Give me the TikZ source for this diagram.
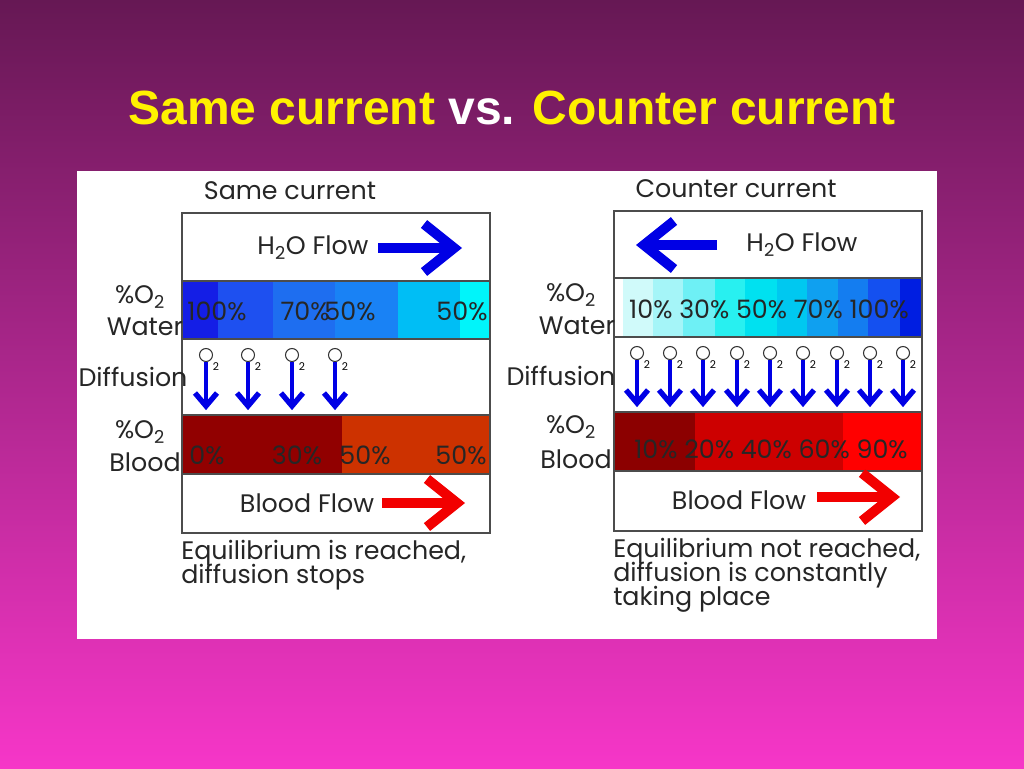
\documentclass[tikz,border=0pt]{standalone}
\usepackage{fontspec}
\setmainfont{Liberation Sans}
\newfontfamily\gfont{Poppins}
\begin{document}
\begin{tikzpicture}[x=0.75pt,y=-0.75pt,
  lab/.style={font=\gfont\fontsize{19}{20}\selectfont,inner sep=0pt,text=black!85},
  flowb/.style={line width=7.5pt,blue!90!black},
  flowr/.style={line width=7.5pt,red!95!black},
  dif/.style={blue!90!black}]
\useasboundingbox (0,0) rectangle (1024,768);
\shade[top color={rgb,255:red,102;green,24;blue,84},bottom color={rgb,255:red,246;green,54;blue,200}] (0,0) rectangle (1024,768);
\node[font=\bfseries\fontsize{36}{40}\selectfont,inner sep=0pt] (title) at (512,108) {\textcolor{yellow}{Same current} \textcolor{white}{vs.} \textcolor{yellow}{Counter current}};
\fill[white] (77,171) rectangle (937,639);
% ---------- left panel ----------
\def\seg#1#2#3#4#5{\fill[#5] (#1,#3) rectangle (#2,#4);}
\definecolor{wa}{RGB}{20,30,230}\definecolor{wb}{RGB}{30,80,240}\definecolor{wc}{RGB}{30,110,240}
\definecolor{wd}{RGB}{25,130,245}\definecolor{we}{RGB}{0,190,245}\definecolor{wf}{RGB}{0,245,250}
\seg{182}{218}{281}{339}{wa}\seg{218}{273}{281}{339}{wb}\seg{273}{335}{281}{339}{wc}
\seg{335}{398}{281}{339}{wd}\seg{398}{460}{281}{339}{we}\seg{460}{490}{281}{339}{wf}
\definecolor{ba}{RGB}{145,0,0}\definecolor{bb}{RGB}{205,50,0}
\seg{182}{342}{415}{474}{ba}\seg{342}{490}{415}{474}{bb}
\draw[black!70,line width=0.9pt] (182,213) rectangle (490,533);
\foreach \y in {281,339,415,474}{\draw[black!70,line width=0.9pt] (182,\y)--(490,\y);}
\node[lab] (st) at (290,191) {Same current};
\node[lab] (h1) at (313,248) {H\textsubscript{2}O Flow};
\draw[flowb] (378,248)--(452,248); \draw[flowb,line join=miter] (424,224)--(454,248)--(424,272);
\node[lab] (b1) at (307,503) {Blood Flow};
\draw[flowr] (382,503)--(455,503); \draw[flowr,line join=miter] (427,479)--(457,503)--(427,527);
\node[lab] at (217,311) {100\%}; \node[lab] at (305,311) {70\%}; \node[lab] at (350,311) {50\%}; \node[lab] at (462,311) {50\%};
\node[lab] at (207,455) {0\%}; \node[lab] at (297,455) {30\%}; \node[lab] at (365,455) {50\%}; \node[lab] at (461,455) {50\%};
\node[lab] at (140,297) {\%O\textsubscript{2}}; \node[lab] at (145,327) {Water};
\node[lab] at (133,377) {Diffusion};
\node[lab] at (140,432) {\%O\textsubscript{2}}; \node[lab] at (145,462) {Blood};
\node[lab,align=left,anchor=north west] (eq1) at (181,540) {Equilibrium is reached,\\[-2pt] diffusion stops};
\foreach \x in {206,248,292,335}{
  \draw[black!80,line width=0.8pt,fill=white] (\x,355) circle (6.5);
  \node[font=\gfont\fontsize{8}{8}\selectfont,inner sep=0pt] at (\x+10,367) {2};
  \draw[dif,line width=3pt] (\x,362)--(\x,405);
  \draw[dif,line width=4pt,line join=miter] (\x-11,393)--(\x,406)--(\x+11,393);}
% ---------- right panel ----------
\definecolor{c1}{RGB}{208,250,250}\definecolor{c2}{RGB}{165,245,248}\definecolor{c3}{RGB}{110,240,245}
\definecolor{c4}{RGB}{40,240,240}\definecolor{c5}{RGB}{0,225,240}\definecolor{c6}{RGB}{0,200,240}
\definecolor{c7}{RGB}{15,160,240}\definecolor{c8}{RGB}{20,125,240}\definecolor{c9}{RGB}{20,80,240}
\definecolor{c10}{RGB}{0,30,225}
\seg{623}{653}{278}{337}{c1}\seg{653}{683}{278}{337}{c2}\seg{683}{715}{278}{337}{c3}
\seg{715}{745}{278}{337}{c4}\seg{745}{777}{278}{337}{c5}\seg{777}{807}{278}{337}{c6}
\seg{807}{838}{278}{337}{c7}\seg{838}{868}{278}{337}{c8}\seg{868}{900}{278}{337}{c9}
\seg{900}{922}{278}{337}{c10}
\definecolor{r1}{RGB}{140,0,0}\definecolor{r2}{RGB}{205,0,0}\definecolor{r3}{RGB}{255,0,0}
\seg{614}{695}{412}{471}{r1}\seg{695}{843}{412}{471}{r2}\seg{843}{922}{412}{471}{r3}
\draw[black!70,line width=0.9pt] (614,211) rectangle (922,531);
\foreach \y in {278,337,412,471}{\draw[black!70,line width=0.9pt] (614,\y)--(922,\y);}
\node[lab] (ct) at (736,189) {Counter current};
\node[lab] (h2) at (802,245) {H\textsubscript{2}O Flow};
\draw[flowb] (717,245)--(648,245); \draw[flowb,line join=miter] (674,221)--(644,245)--(674,269);
\node[lab] (b2) at (739,500) {Blood Flow};
\draw[flowr] (817,497)--(888,497); \draw[flowr,line join=miter] (862,473)--(892,497)--(862,521);
\node[lab] at (769,309) {10\% 30\% 50\% 70\% 100\%};
\node[lab] at (771,449) {10\% 20\% 40\% 60\% 90\%};
\node[lab] at (571,295) {\%O\textsubscript{2}}; \node[lab] at (577,326) {Water};
\node[lab] at (561,376) {Diffusion};
\node[lab] at (571,427) {\%O\textsubscript{2}}; \node[lab] at (576,459) {Blood};
\node[lab,align=left,anchor=north west] (eq2) at (613,538) {Equilibrium not reached,\\[-2pt] diffusion is constantly\\[-2pt] taking place};
\foreach \x in {637,670,703,737,770,803,837,870,903}{
  \draw[black!80,line width=0.8pt,fill=white] (\x,353) circle (6.5);
  \node[font=\gfont\fontsize{8}{8}\selectfont,inner sep=0pt] at (\x+10,365) {2};
  \draw[dif,line width=3pt] (\x,360)--(\x,402);
  \draw[dif,line width=4pt,line join=miter] (\x-11,390)--(\x,403)--(\x+11,390);}
\end{tikzpicture}
\end{document}
